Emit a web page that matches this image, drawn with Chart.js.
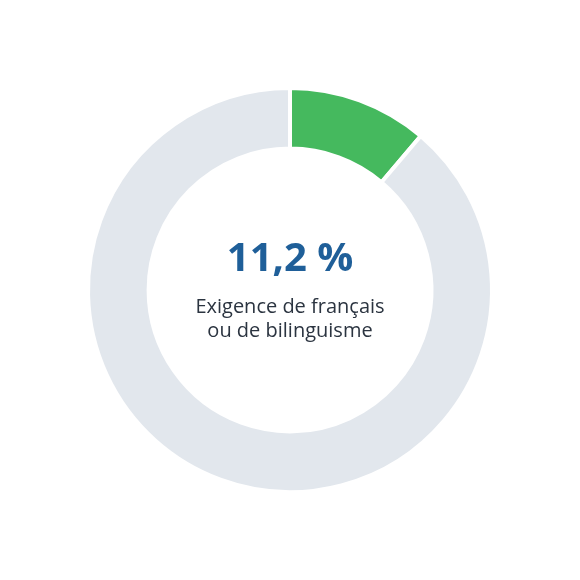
<!DOCTYPE html>
<html><head><meta charset="utf-8">
<script src="https://cdn.jsdelivr.net/npm/chart.js@4"></script>
<style>html,body{margin:0;padding:0;background:#fff}#wrap{width:580px;height:580px}</style>
</head><body><div id="wrap"><canvas id="c"></canvas></div>
<script>
const labels = ["Exigence de français ou de bilinguisme", "Autres"];
const values = [11.2, 88.8];
const colors = ["#45b95e", "#e2e7ed"];
const centerValue = "11,2 %";
const centerLines = ["Exigence de français", "ou de bilinguisme"];

const centerText = {
  id: "centerText",
  afterDraw(chart) {
    const ctx = chart.ctx;
    const x = (chart.chartArea.left + chart.chartArea.right) / 2;
    const y = (chart.chartArea.top + chart.chartArea.bottom) / 2;
    ctx.save();
    ctx.textAlign = "center";
    ctx.textBaseline = "middle";
    ctx.fillStyle = "#1f5f99";
    ctx.font = "bold 40px 'Open Sans'";
    ctx.fillText(centerValue, x, y - 30);
    ctx.fillStyle = "#2b3440";
    ctx.font = "20px 'Open Sans'";
    ctx.fillText(centerLines[0], x, y + 17);
    ctx.fillText(centerLines[1], x, y + 41);
    ctx.restore();
  }
};

new Chart(document.getElementById("c"), {
  type: "doughnut",
  data: { labels: labels, datasets: [{ data: values, backgroundColor: colors, borderColor: "#fff", borderWidth: 4 }] },
  options: {
    responsive: true, maintainAspectRatio: false, animation: false,
    cutout: "70%",
    layout: { padding: 86 },
    plugins: { legend: { display: false }, tooltip: { enabled: false } }
  },
  plugins: [centerText]
});
</script></body></html>
